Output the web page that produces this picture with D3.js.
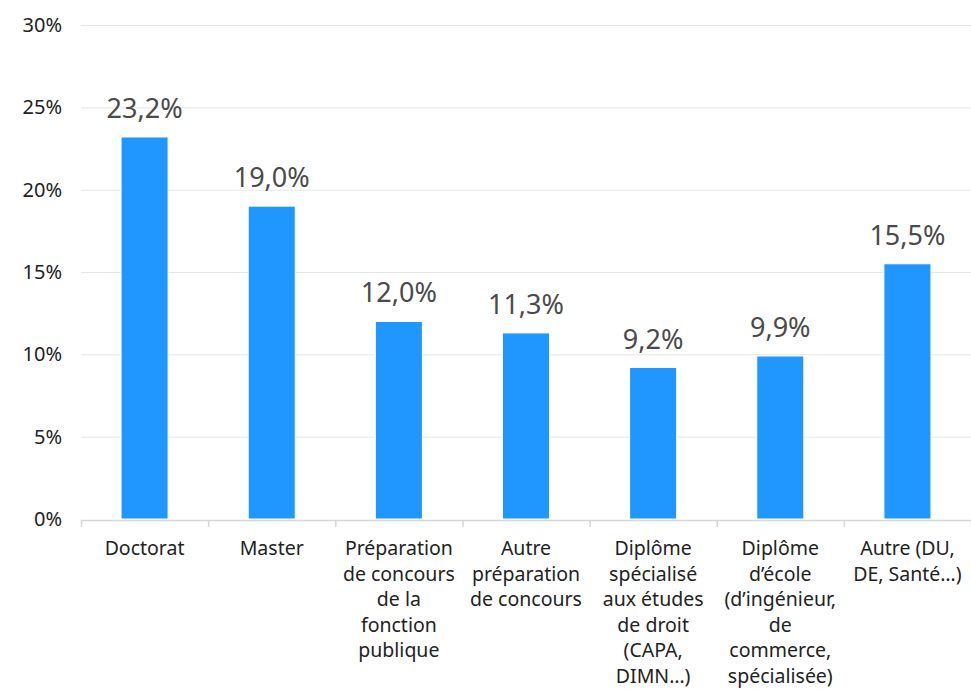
<!DOCTYPE html>
<html>
<head>
<meta charset="utf-8">
<script src="https://cdn.jsdelivr.net/npm/d3@7"></script>
<style>
  body { margin: 0; background: #fff; }
  text { font-family: "Noto Sans", "Open Sans", sans-serif; }
</style>
</head>
<body>
<svg id="chart" width="971" height="689"></svg>
<script>
// data
const categories = [
    ["Doctorat"],
    ["Master"],
    ["Préparation", "de concours", "de la", "fonction", "publique"],
    ["Autre", "préparation", "de concours"],
    ["Diplôme", "spécialisé", "aux études", "de droit", "(CAPA,", "DIMN…)"],
    ["Diplôme", "d’école", "(d’ingénieur,", "de", "commerce,", "spécialisée)"],
    ["Autre (DU,", "DE, Santé…)"]
];
const values = [23.2, 19.0, 12.0, 11.3, 9.2, 9.9, 15.5];
const yTicks = [0, 5, 10, 15, 20, 25, 30];

const width = 971;
const height = 689;
const margin = { top: 25, right: 0, bottom: 170, left: 81 };

const svg = d3.select("#chart");

const x = d3.scaleBand()
    .domain(d3.range(categories.length))
    .range([margin.left, width - margin.right])
    .paddingInner(0.63)
    .paddingOuter(0.315);

const y = d3.scaleLinear()
    .domain([0, 30])
    .range([height - margin.bottom, margin.top]);

// gridlines
svg.append("g")
    .selectAll("line")
    .data(yTicks.filter(d => d > 0))
    .enter()
    .append("line")
    .attr("x1", margin.left)
    .attr("x2", width)
    .attr("y1", d => y(d) + 0.5)
    .attr("y2", d => y(d) + 0.5)
    .attr("stroke", "#e6e6e6")
    .attr("stroke-width", 1);

// y labels
svg.append("g")
    .selectAll("text")
    .data(yTicks)
    .enter()
    .append("text")
    .attr("x", 62)
    .attr("y", d => y(d))
    .attr("dy", "0.35em")
    .attr("text-anchor", "end")
    .attr("font-size", 20)
    .attr("fill", "#222")
    .text(d => d + "%");

// bars
svg.append("g")
    .selectAll("rect")
    .data(values)
    .enter()
    .append("rect")
    .attr("x", (d, i) => x(i))
    .attr("y", d => y(d))
    .attr("width", x.bandwidth())
    .attr("height", d => y(0) - y(d))
    .attr("fill", "#1f97ff")
    .attr("stroke", "#fff")
    .attr("stroke-width", 1);

// value labels
const fmt = d => d.toFixed(1).replace(".", ",") + "%";
svg.append("g")
    .selectAll("text")
    .data(values)
    .enter()
    .append("text")
    .attr("x", (d, i) => x(i) + x.bandwidth() / 2)
    .attr("y", d => y(d) - 19)
    .attr("text-anchor", "middle")
    .attr("font-size", 27)
    .attr("fill", "#4a4a4a")
    .text(fmt);

// x axis line + ticks
const step = x.step();
const axis = svg.append("g");
axis.append("line")
    .attr("x1", margin.left)
    .attr("x2", width)
    .attr("y1", y(0) + 1.5)
    .attr("y2", y(0) + 1.5)
    .attr("stroke", "#d6d6d6")
    .attr("stroke-width", 1.5);
axis.selectAll(".tick")
    .data(d3.range(categories.length + 1))
    .enter()
    .append("line")
    .attr("x1", i => margin.left + i * step + 0.5)
    .attr("x2", i => margin.left + i * step + 0.5)
    .attr("y1", y(0) + 1)
    .attr("y2", y(0) + 8)
    .attr("stroke", "#d6d6d6")
    .attr("stroke-width", 1.5);

// category labels
const lab = svg.append("g")
    .selectAll("text")
    .data(categories)
    .enter()
    .append("text")
    .attr("text-anchor", "middle")
    .attr("font-size", 19.5)
    .attr("fill", "#222");
lab.each(function(lines, i) {
    const cx = x(i) + x.bandwidth() / 2;
    d3.select(this)
        .selectAll("tspan")
        .data(lines)
        .enter()
        .append("tspan")
        .attr("x", cx)
        .attr("y", (d, j) => 555 + j * 25.5)
        .text(d => d);
});
</script>
</body>
</html>
